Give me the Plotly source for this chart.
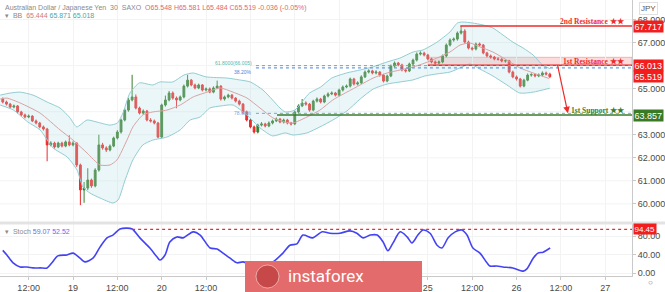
import plotly.graph_objects as go

# ---------------- data ----------------
# hourly candles, x = trading hours from 19 Mar 00:00 (weekend removed)
t = list(range(-19, 130))
close = [64.42, 64.33, 64.20, 64.25, 63.99, 63.86, 63.77, 63.81, 63.60, 63.51,
         63.34, 63.25, 62.56, 62.64, 62.47, 62.64, 62.51, 62.69, 62.56, 62.64,
         61.69, 60.61, 60.69, 61.04, 60.78, 61.47, 62.56, 62.43, 62.34, 62.51,
         62.86, 63.12, 63.64, 64.07, 64.51, 64.64, 64.16, 63.94, 64.03, 63.64,
         63.60, 63.51, 62.90, 64.29, 64.51, 64.81, 64.59, 64.51, 64.64, 65.11,
         65.37, 65.16, 65.03, 65.16, 64.94, 64.99, 64.85, 65.03, 65.11, 64.55,
         64.64, 64.72, 64.59, 64.46, 64.33, 63.99, 63.64, 63.34, 63.12, 63.42,
         63.47, 63.38, 63.51, 63.60, 63.68, 63.55, 63.64, 63.51, 63.47, 63.99,
         64.25, 64.38, 64.33, 64.07, 64.46, 64.55, 64.42, 64.68, 64.77, 64.81,
         64.72, 64.94, 65.07, 65.11, 65.42, 65.20, 65.25, 65.51, 65.72, 65.77,
         65.68, 65.72, 65.59, 65.33, 65.55, 65.98, 66.11, 66.03, 65.81, 65.77,
         66.07, 66.24, 66.50, 66.54, 66.46, 66.29, 66.16, 66.11, 66.16, 66.42,
         66.89, 67.11, 67.15, 67.41, 67.50, 67.02, 66.76, 66.72, 66.94, 66.89,
         66.55, 66.42, 66.37, 66.29, 66.27, 66.20, 66.21, 65.72, 65.51, 65.42,
         65.11, 65.37, 65.59, 65.61, 65.55, 65.59, 65.68, 65.63, 65.52]
first_open = 64.55
high = [64.62, 64.48, 64.38, 64.31, 64.29, 64.04, 63.92, 63.88, 63.85, 63.66,
        63.56, 63.40, 63.30, 62.72, 62.70, 62.70, 62.70, 62.75, 62.98, 62.72,
        62.68, 61.75, 60.95, 61.55, 61.10, 61.55, 63.00, 62.65, 62.50, 62.58,
        62.92, 63.20, 63.70, 64.15, 64.60, 65.60, 64.75, 64.22, 64.10, 64.08,
        63.72, 63.66, 63.56, 64.35, 64.70, 64.90, 64.88, 64.66, 64.70, 65.18,
        65.60, 65.42, 65.22, 65.22, 65.20, 65.05, 65.05, 65.10, 65.35, 65.15,
        64.70, 64.78, 64.77, 64.63, 64.52, 64.38, 64.05, 63.70, 63.40, 63.48,
        63.55, 63.52, 63.58, 63.66, 63.75, 63.73, 63.70, 63.69, 63.56, 64.05,
        64.32, 64.55, 64.45, 64.38, 64.52, 64.62, 64.60, 64.74, 64.84, 64.88,
        64.86, 65.00, 65.14, 65.18, 65.48, 65.47, 65.32, 65.58, 65.79, 65.84,
        65.82, 65.80, 65.76, 65.64, 65.61, 66.05, 66.18, 66.16, 66.08, 65.87,
        66.13, 66.30, 66.57, 66.62, 66.60, 66.51, 66.34, 66.22, 66.22, 66.48,
        66.96, 67.18, 67.22, 67.48, 67.717, 67.58, 67.08, 66.82, 67.00, 67.00,
        66.94, 66.60, 66.48, 66.42, 66.36, 66.34, 66.27, 66.25, 65.78, 65.57,
        65.47, 65.43, 65.66, 65.67, 65.65, 65.66, 65.75, 65.74, 65.69]
low = [64.36, 64.27, 64.14, 64.15, 63.93, 63.80, 63.71, 63.72, 63.55, 63.45,
       63.28, 63.18, 61.85, 62.50, 62.40, 62.42, 62.45, 62.46, 62.50, 62.50,
       61.60, 59.95, 60.05, 60.60, 60.70, 60.72, 61.40, 62.35, 62.25, 62.28,
       62.46, 62.80, 63.05, 63.58, 64.00, 64.45, 64.10, 63.88, 63.88, 63.58,
       63.53, 63.45, 62.85, 62.85, 64.22, 64.45, 64.52, 64.15, 64.45, 64.58,
       65.05, 65.10, 64.97, 64.98, 64.88, 64.88, 64.80, 64.80, 64.98, 64.48,
       64.48, 64.58, 64.53, 64.40, 64.27, 63.90, 63.58, 63.28, 63.05, 63.06,
       63.36, 63.32, 63.33, 63.45, 63.55, 63.50, 63.49, 63.45, 63.40, 63.42,
       63.94, 64.20, 64.26, 64.00, 64.02, 64.40, 64.36, 64.37, 64.62, 64.72,
       64.66, 64.67, 64.88, 65.02, 65.05, 65.14, 65.14, 65.20, 65.46, 65.66,
       65.62, 65.62, 65.52, 65.27, 65.28, 65.50, 65.92, 65.97, 65.75, 65.70,
       65.72, 66.01, 66.18, 66.44, 66.40, 66.23, 66.10, 66.04, 66.05, 66.10,
       66.36, 66.83, 67.04, 67.08, 67.35, 66.96, 66.70, 66.65, 66.66, 66.83,
       66.49, 66.36, 66.30, 66.23, 66.22, 66.14, 66.13, 65.66, 65.45, 65.35,
       65.05, 65.06, 65.32, 65.52, 65.49, 65.50, 65.54, 65.57, 65.46]
opn = [first_open] + close[:-1]

# Bollinger band
bb_up_t = [-19.7, -17, -14.3, -10.8, -7, -3.5, -0.8, 1, 3.8, 6.5, 10, 12, 13.5, 15.4,
           18, 21.6, 23.5, 27, 30, 32.5, 36, 41.7, 45, 48, 51.4, 54, 56, 57.4, 60,
           64, 67, 70, 74, 77.7, 81, 85, 88.5, 92, 94.7, 98.5, 102, 104, 105.5, 108,
           111, 113.6, 116.3, 119, 121.8, 124.5, 127, 129]
bb_up = [64.72, 64.81, 64.85, 64.72, 64.42, 64.16, 63.73, 63.34, 63.64, 63.55, 63.42,
         63.51, 63.94, 64.81, 65.25, 65.16, 65.29, 65.29, 65.59, 65.68, 65.51, 65.46,
         65.38, 65.29, 64.94, 64.51, 64.16, 63.99, 64.07, 64.81, 65.07, 65.46, 65.68,
         65.81, 65.94, 66.16, 66.33, 66.59, 66.68, 67.02, 67.46, 67.85, 67.89, 67.85,
         67.76, 67.63, 67.33, 67.02, 66.76, 66.46, 66.03, 65.87]
bb_lo_t = [-19.7, -16.1, -12.2, -8.9, -5.4, -1.6, 1.1, 2.7, 4.6, 7.3, 10.8, 12.2, 14.1,
           16.2, 18.9, 21.6, 25.4, 29, 31.7, 34.4, 37, 40, 43.3, 47, 50.6, 54, 57.4,
           59.5, 63.3, 66.8, 70.3, 74.1, 77.7, 81.2, 85, 88.5, 92, 95.2, 98.5, 102,
           104.7, 107.4, 110.1, 113.6, 117.4, 120.9, 124.5, 129]
bb_lo = [64.29, 64.07, 63.55, 63.21, 62.43, 62.04, 61.47, 60.73, 60.47, 60.26, 60.04,
         60.17, 61.04, 61.91, 62.56, 62.77, 62.90, 63.21, 63.64, 63.77, 64.16, 64.25,
         64.29, 63.86, 63.30, 62.95, 63.08, 62.99, 63.08, 63.34, 63.64, 64.03, 64.55,
         64.98, 65.20, 65.29, 65.38, 65.55, 65.64, 65.72, 65.90, 66.07, 65.85, 65.55,
         65.16, 64.81, 64.85, 65.02]
bb_mid_t = [-19.7, -17.9, -14.3, -8.9, -3.5, 0, 3.8, 7.3, 10, 11.9, 14.6, 16.2, 18.9,
            21.6, 25.4, 29, 32.5, 36.3, 39.8, 43.3, 47.1, 50.6, 54.1, 57.4, 59.5, 63.3,
            66.8, 70.3, 74.1, 77.7, 81.2, 85, 88.5, 92, 95.2, 98.5, 102, 104.7, 107.4,
            110.1, 113.6, 117.4, 120.9, 124.5, 128.8]
bb_mid = [64.55, 64.59, 64.38, 63.94, 63.21, 62.77, 62.21, 61.69, 61.69, 61.91, 62.77,
          63.34, 63.86, 63.99, 64.07, 64.29, 64.64, 64.85, 65.03, 64.85, 64.59, 64.16,
          63.73, 63.55, 63.51, 63.77, 64.07, 64.51, 64.85, 65.16, 65.46, 65.68, 65.81,
          65.94, 66.11, 66.33, 66.59, 66.89, 66.98, 66.81, 66.59, 66.24, 65.90, 65.68,
          65.44]

# Stochastic %K
st_t = [-19, -17.9, -16.2, -14.3, -12.4, -10.8, -8.9, -7.0, -5.7, -4.1, -1.6, 0, 1.9,
        3.2, 5.4, 7.3, 9.2, 10.8, 12.7, 14.6, 16, 18.1, 20.8, 22.7, 23.5, 24.9, 26.2,
        28.1, 29.8, 32.5, 34.4, 37.1, 39, 40.6, 42.5, 44.4, 46, 49.2, 51.9, 54.1, 56.8,
        58.7, 60.6, 62.2, 64.9, 67.4, 69.5, 72.2, 74.9, 76.8, 78.5, 80.4, 82.3, 83.9,
        85.2, 86.6, 88.5, 90.4, 91.7, 93.3, 94.7, 96.6, 98.5, 99.8, 101.5, 103.4, 105.2,
        106.6, 108.2, 110.1, 112, 112.8, 114.7, 116.3, 119, 121.8, 122.8, 124.5, 125.8,
        127.2, 129.1]
st_k = [49, 39, 22, 13, 13, 11, 11, 11, 22, 37, 39, 43, 32, 24, 32, 56, 76, 82, 95, 97,
        95, 76, 54, 35, 28, 39, 67, 78, 76, 89, 82, 54, 52, 43, 32, 22, 24, 15, 17, 24,
        43, 60, 63, 82, 76, 89, 86, 86, 91, 86, 76, 82, 82, 67, 48, 65, 89, 78, 65, 82,
        93, 86, 60, 54, 76, 89, 93, 82, 54, 43, 22, 15, 15, 13, 11, 4, 9, 32, 43, 45, 54]

# tick labels hidden behind the logo in the reference are left blank
tick_hours = [-12, 0, 12, 24, 36, 48, 60, 72, 84, 96, 108, 120, 132, 144]
tick_text = ["12:00", "19", "12:00", "20", "12:00", "", "", "", "",
             "25", "12:00", "26", "12:00", "27"]
# 64 and 66 are covered by the level labels in the reference
price_ticks = [60, 61, 62, 63, 65, 67, 68]
grid_prices = [60, 61, 62, 63, 64, 65, 66, 67, 68]
stoch_ticks = [0, 40, 80]

res2 = 67.717
res1 = 66.013
res1_top = 66.36
last_price = 65.519
sup1 = 63.857
stoch_level = 94.45
fib_a = 66.00
fib_b = 65.90
fib_c = 63.93

# ---------------- figure ----------------
XR = [-19.75, 151.24]
RED = "#ee2b2b"
GREEN = "#3a7d2c"
fig = go.Figure()

band_line = dict(color="#93cdd2", width=1, shape="spline", smoothing=0.6)
fig.add_trace(go.Scatter(x=bb_lo_t, y=bb_lo, mode="lines", line=band_line,
                         hoverinfo="skip", showlegend=False))
fig.add_trace(go.Scatter(x=bb_up_t, y=bb_up, mode="lines", line=band_line,
                         fill="tonexty", fillcolor="rgba(178,222,228,0.28)",
                         hoverinfo="skip", showlegend=False))
fig.add_trace(go.Scatter(x=bb_mid_t, y=bb_mid, mode="lines",
                         line=dict(color="#d9a3a3", width=1, shape="spline", smoothing=0.6),
                         hoverinfo="skip", showlegend=False))

fig.add_trace(go.Candlestick(
    x=t, open=opn, high=high, low=low, close=close,
    increasing=dict(line=dict(color=GREEN, width=1), fillcolor=GREEN),
    decreasing=dict(line=dict(color=RED, width=1), fillcolor=RED),
    whiskerwidth=0, showlegend=False, xaxis="x", yaxis="y"))

fig.add_trace(go.Scatter(x=st_t, y=st_k, mode="lines", xaxis="x2", yaxis="y2",
                         line=dict(color="#4343f5", width=1.6, shape="spline", smoothing=0.8),
                         hoverinfo="skip", showlegend=False))

shapes = []
for gp in grid_prices:
    shapes.append(dict(type="line", xref="paper", yref="y", x0=0, x1=1, y0=gp, y1=gp,
                       line=dict(color="#f3f3f3", width=1), layer="below"))
# panel separator
shapes.append(dict(type="line", xref="paper", yref="paper", x0=0, x1=1.06,
                   y0=0.192, y1=0.192, line=dict(color="#e3e3e3", width=3)))
# 1st resistance zone
shapes.append(dict(type="rect", xref="x", yref="y", x0=96.0, x1=XR[1], y0=res1, y1=res1_top,
                   fillcolor="rgba(244,160,160,0.38)", line=dict(color="rgba(240,110,110,0.45)", width=1),
                   layer="below"))
shapes.append(dict(type="line", xref="x", yref="y", x0=96.0, x1=XR[1], y0=res1, y1=res1,
                   line=dict(color=RED, width=1.5)))
# 2nd resistance
shapes.append(dict(type="line", xref="x", yref="y", x0=104.8, x1=XR[1], y0=res2, y1=res2,
                   line=dict(color=RED, width=1.5)))
# fib dotted lines
shapes.append(dict(type="line", xref="x", yref="y", x0=49.5, x1=XR[1], y0=fib_a, y1=fib_a,
                   line=dict(color="#53b8b0", width=1, dash="dot")))
shapes.append(dict(type="line", xref="x", yref="y", x0=49.5, x1=XR[1], y0=fib_b, y1=fib_b,
                   line=dict(color="#4f7fe0", width=1, dash="dot")))
shapes.append(dict(type="line", xref="x", yref="y", x0=49.5, x1=XR[1], y0=fib_c, y1=fib_c,
                   line=dict(color="#7fa0e0", width=1, dash="dot")))
# 1st support
shapes.append(dict(type="line", xref="x", yref="y", x0=55.2, x1=XR[1], y0=sup1, y1=sup1,
                   line=dict(color=GREEN, width=1.5)))
# stoch level
shapes.append(dict(type="line", xref="x2", yref="y2", x0=16.0, x1=XR[1], y0=stoch_level,
                   y1=stoch_level, line=dict(color=RED, width=1.2, dash="dot")))
# logo box
shapes.append(dict(type="rect", xref="paper", yref="paper", x0=245/632, x1=422/632,
                   y0=-0.06, y1=1-261/276, fillcolor="#e36b6b", line=dict(width=0), layer="above"))
shapes.append(dict(type="circle", xref="paper", yref="paper", x0=256/632, x1=279/632,
                   y0=1-288/276, y1=1-265/276, fillcolor="rgba(190,60,60,0.75)",
                   line=dict(color="rgba(255,255,255,0.5)", width=1), layer="above"))

ann = []
def axis_label(y, text, color, yref="y", size=9):
    ann.append(dict(xref="paper", yref=yref, x=1, y=y, text=text, showarrow=False,
                    xanchor="left", yanchor="middle", xshift=1,
                    font=dict(family="Liberation Sans, Arial", size=size, color="white"),
                    bgcolor=color, borderpad=0.5))

axis_label(res2, "67.717", "#f21d1d")
axis_label(res1, "66.013", "#f21d1d")
axis_label(last_price, "65.519", "#f21d1d")
axis_label(sup1, "63.857", "#3b7a25")
axis_label(stoch_level, "94.45", "#f21d1d", "y2", 8)

def level_text(y, text, color):
    ann.append(dict(xref="paper", yref="y", x=0.992, y=y, text=text, showarrow=False,
                    xanchor="right", yanchor="middle",
                    font=dict(family="Liberation Serif, Times New Roman", size=7.5, color=color)))

level_text(67.90, "<b>2nd Resistance ★★</b>", RED)
level_text(66.19, "<b>1st Resistance ★★</b>", RED)
level_text(64.07, "<b>1st Support ★★</b>", GREEN)

# arrow
ann.append(dict(xref="x", yref="y", axref="x", ayref="y", x=133.9, y=63.93, ax=131.0, ay=66.10,
                text="", showarrow=True, arrowhead=2, arrowsize=1.1, arrowwidth=1.2,
                arrowcolor=RED))

# fib small labels
small = dict(family="Liberation Sans, Arial", size=5)
ann.append(dict(xref="x", yref="y", x=49.0, y=fib_a, text="61.8000(66.005)", showarrow=False,
                xanchor="right", yanchor="bottom", yshift=-2, font=dict(small, color="#53b8b0")))
ann.append(dict(xref="x", yref="y", x=49.0, y=fib_b, text="38.20%", showarrow=False,
                xanchor="right", yanchor="top", yshift=1, font=dict(small, color="#4f7fe0")))
ann.append(dict(xref="x", yref="y", x=49.0, y=fib_c, text="78.60%", showarrow=False,
                xanchor="right", yanchor="middle", font=dict(small, color="#7fa0e0")))

# headers
hdr = dict(family="Liberation Sans, Arial", size=7)
ann.append(dict(xref="paper", yref="paper", x=0.004, y=1-2/276, xanchor="left", yanchor="top",
                showarrow=False, font=dict(hdr, color="#8a8a8a"),
                text="Australian Dollar / Japanese Yen &nbsp;30 &nbsp;SAXO &nbsp;"
                     "<span style='color:#e06a6a'>O65.548 H65.581 L65.484 C65.519 -0.036 (-0.05%)</span>"))
ann.append(dict(xref="paper", yref="paper", x=0.004, y=1-10/276, xanchor="left", yanchor="top",
                showarrow=False, font=dict(hdr, color="#8a8a8a"),
                text="▾ &nbsp;BB &nbsp;<span style='color:#d07a7a'>65.444</span> "
                     "<span style='color:#3fa9a9'>65.871 65.018</span>"))
ann.append(dict(xref="paper", yref="paper", x=0.004, y=1-226/276, xanchor="left", yanchor="top",
                showarrow=False, font=dict(hdr, color="#8a8a8a"),
                text="▾ &nbsp;Stoch <span style='color:#6a6af0'>59.07 52.52</span>"))
ann.append(dict(xref="paper", yref="paper", x=1, y=1-2/276, xanchor="left", yanchor="top",
                xshift=7, showarrow=False, font=dict(family="Liberation Sans, Arial", size=8,
                                                     color="#555"),
                text="JPY", bordercolor="#e0e0e0", borderwidth=1, borderpad=1))
ann.append(dict(xref="paper", yref="paper", x=1, y=1-283/276, xanchor="left", yanchor="middle",
                xshift=14, showarrow=False, font=dict(family="Liberation Sans, Arial", size=8,
                                                      color="#777"), text="○"))
# logo text
ann.append(dict(xref="paper", yref="paper", x=286/632, y=1-276/276, xanchor="left",
                yanchor="middle", showarrow=False,
                font=dict(family="Roboto, Liberation Sans", size=17, color="white"),
                text="instaforex"))

axis_font = dict(family="Liberation Sans, Arial", size=9, color="#4a4a4a")
fig.update_layout(
    width=665, height=292, margin=dict(l=0, r=33, t=0, b=16),
    paper_bgcolor="white", plot_bgcolor="white",
    showlegend=False, hovermode=False,
    xaxis=dict(domain=[0, 1], anchor="y", range=XR, showticklabels=False,
               rangeslider=dict(visible=False), showgrid=True, gridcolor="#f3f3f3",
               tickvals=tick_hours, zeroline=False, fixedrange=True),
    xaxis2=dict(domain=[0, 1], anchor="y2", range=XR, tickvals=tick_hours,
                ticktext=tick_text, tickfont=axis_font, showgrid=True, gridcolor="#f3f3f3",
                showline=True, linecolor="#c9c9c9", ticks="outside", ticklen=3,
                tickcolor="#c9c9c9", zeroline=False, matches="x"),
    yaxis=dict(domain=[1-222/276, 1], anchor="x", side="right", range=[59.217, 68.845],
               tickvals=price_ticks, tickformat=".3f", tickfont=axis_font,
               showgrid=False, showline=True, linecolor="#c9c9c9",
               ticks="outside", ticklen=3, tickcolor="#c9c9c9", zeroline=False),
    yaxis2=dict(domain=[0, 1-224/276], anchor="x2", side="right", range=[-6.49, 105.95],
                tickvals=stoch_ticks, tickformat=".2f", tickfont=axis_font,
                showgrid=True, gridcolor="#f3f3f3", showline=True, linecolor="#c9c9c9",
                ticks="outside", ticklen=3, tickcolor="#c9c9c9", zeroline=False),
    shapes=shapes, annotations=ann,
)

fig.write_html("out.html")
